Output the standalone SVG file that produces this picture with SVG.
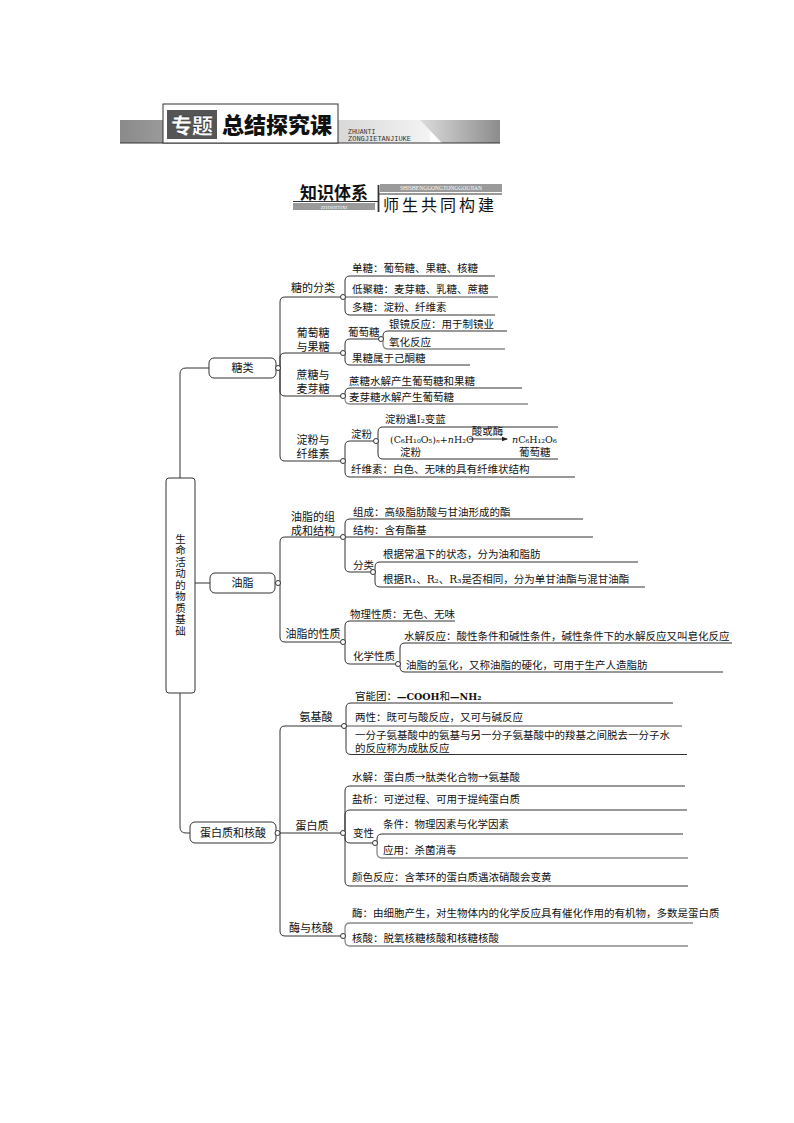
<svg xmlns="http://www.w3.org/2000/svg" width="794" height="1123" viewBox="0 0 794 1123">
<defs>
<linearGradient id="bandL" x1="120" y1="0" x2="430" y2="0" gradientUnits="userSpaceOnUse">
<stop offset="0" stop-color="#8a8a8a"/><stop offset="0.5" stop-color="#c4c4c4"/><stop offset="1" stop-color="#f4f4f4"/>
</linearGradient>
<linearGradient id="bandR" x1="420" y1="0" x2="500" y2="0" gradientUnits="userSpaceOnUse">
<stop offset="0" stop-color="#dcdcdc"/><stop offset="1" stop-color="#8c8c8c"/>
</linearGradient>
<marker id="ah" viewBox="0 0 6 6" refX="5" refY="3" markerWidth="6" markerHeight="6" orient="auto" markerUnits="userSpaceOnUse">
<path d="M0,0.8 L6,3 L0,5.2 Z" fill="#222"/>
</marker>
<style>
.t{font-family:"Noto Sans CJK SC","Noto Sans CJK JP",sans-serif;font-size:10.5px;fill:#111}
.l2{font-size:11px;text-anchor:middle}
.f{font-family:"DejaVu Serif","Liberation Serif","Noto Sans CJK SC",serif;font-size:9.5px;fill:#111}
.s{font-family:"DejaVu Serif","Liberation Serif",serif}
.cj{font-family:"Noto Sans CJK SC",sans-serif;font-size:10.5px}
.ln{fill:none;stroke:#333;stroke-width:1}
.g{stroke:#8a8a8a;stroke-width:1.3}
.c{fill:#fff;stroke:#333;stroke-width:1}
.box{fill:#fff;stroke:#333;stroke-width:1}
.vt{writing-mode:vertical-rl;letter-spacing:1px}
</style>
</defs>
<rect width="794" height="1123" fill="#fff"/>

<!-- Header -->
<g id="header">
<rect x="120" y="120" width="310" height="23" fill="url(#bandL)"/>
<polygon points="420,120 500,120 500,143 442,143" fill="url(#bandR)"/>
<line x1="120" y1="143" x2="500" y2="143" stroke="#333" stroke-width="1.2"/>
<rect x="163" y="104" width="175" height="39" fill="#fff" stroke="#333" stroke-width="1"/>
<rect x="167" y="110" width="50" height="29" fill="#555"/>
<text x="192" y="133" text-anchor="middle" font-family="Noto Sans CJK SC,sans-serif" font-size="21" font-weight="900" fill="#fff" stroke="#222" stroke-width="0.4">专题</text>
<text x="277" y="133" text-anchor="middle" font-family="Noto Sans CJK SC,sans-serif" font-size="22" font-weight="900" fill="#111">总结探究课</text>
<text font-family="Liberation Mono,monospace" font-size="6.5" fill="#333"><tspan x="348" y="133.5">ZHUANTI</tspan><tspan x="348" y="141" font-size="7">ZONGJIETANJIUKE</tspan></text>
</g>

<g id="title">
<text x="300" y="199" font-family="Noto Sans CJK SC,sans-serif" font-size="17" font-weight="700" fill="#111">知识体系</text>
<line x1="293" y1="201.5" x2="378" y2="201.5" stroke="#333" stroke-width="1"/>
<rect x="293" y="203" width="82" height="7" fill="#9a9a9a"/>
<text x="334" y="208.8" text-anchor="middle" font-family="Liberation Serif,serif" font-size="5" fill="#fff">ZHISHITIXI</text>
<line x1="378.5" y1="185" x2="378.5" y2="212" stroke="#333" stroke-width="1.8"/>
<rect x="380" y="184" width="122" height="8" fill="#9a9a9a"/>
<text x="441" y="190.3" text-anchor="middle" font-family="Liberation Serif,serif" font-size="5.5" fill="#fff">SHISHENGGONGTONGGOUJIAN</text>
<line x1="378" y1="194" x2="502" y2="194" stroke="#333" stroke-width="1"/>
<text x="383" y="211" font-family="Noto Sans CJK SC,sans-serif" font-size="16" letter-spacing="3" fill="#111">师生共同构建</text>
</g>

<!-- Connectors -->
<g id="connectors">
<path class="ln" d="M209,368 H186 Q180,368 180,374 V478"/>
<path class="ln" d="M195,583 H210"/>
<path class="ln" d="M180,693 V827 Q180,833 186,833 H190"/>
<!-- 糖类 -->
<path class="ln" d="M280,368 V302 Q280,297 285,297 H340.5"/>
<path class="ln" d="M280,368 V358 Q280,353 285,353 H340.5"/>
<path class="ln" d="M280,368 V391 Q280,396 285,396 H340.5"/>
<path class="ln" d="M280,368 V456 Q280,461 285,461 H340.5"/>
<path class="ln" d="M345,297 V281 Q345,276 350,276 H495"/>
<path class="ln g" d="M345.5,297 H498"/>
<path class="ln" d="M345,297 V310 Q345,315 350,315 H495"/>
<path class="ln" d="M345,353 V344 Q345,339 350,339 H378.5"/>
<path class="ln" d="M345,353 V360 Q345,365 350,365 H470"/>
<path class="ln" d="M383,339 V336 Q383,331 388,331 H507"/>
<path class="ln g" d="M383,339 V344 Q383,349 388,349 H505"/>
<path class="ln" d="M345,396 V393 Q345,388 350,388 H522"/>
<path class="ln g" d="M345,396 V399 Q345,404 350,404 H528"/>
<path class="ln" d="M345,461 V446 Q345,441 350,441 H373.5"/>
<path class="ln" d="M345,461 V472 Q345,477 350,477 H575"/>
<path class="ln" d="M378,441 V432 Q378,427 383,427 H558"/>
<path class="ln" d="M378,441 V454 Q378,459 383,459 H558"/>
<path class="ln" d="M469,439 H507" marker-end="url(#ah)"/>
<!-- 油脂 -->
<path class="ln" d="M280,583 V542 Q280,537 285,537 H340.5"/>
<path class="ln" d="M280,583 V637 Q280,642 285,642 H340.5"/>
<path class="ln" d="M345,537 V524 Q345,519 350,519 H583"/>
<path class="ln" d="M345.5,537 H593"/>
<path class="ln" d="M345,537 V567 Q345,572 350,572 H370.5"/>
<path class="ln" d="M375,572 V567 Q375,562 380,562 H638"/>
<path class="ln" d="M375,572 V582 Q375,587 380,587 H645"/>
<path class="ln" d="M345,642 V626 Q345,621 350,621 H455"/>
<path class="ln" d="M345,642 V659 Q345,664 350,664 H395.5"/>
<path class="ln" d="M400,664 V648 Q400,643 405,643 H732"/>
<path class="ln" d="M400,664 V667 Q400,672 405,672 H723"/>
<!-- 蛋白质和核酸 -->
<path class="ln" d="M280,833 V731 Q280,726 285,726 H341.5"/>
<path class="ln" d="M279.5,833 H340.5"/>
<path class="ln" d="M280,833 V931 Q280,936 285,936 H340.5"/>
<path class="ln" d="M346,726 V708 Q346,703 351,703 H673"/>
<path class="ln g" d="M346.5,726 H682"/>
<path class="ln" d="M346,726 V749.5 Q346,754.5 351,754.5 H687"/>
<path class="ln" d="M345,833 V791 Q345,786 350,786 H685"/>
<path class="ln" d="M345,833 V815 Q345,810 350,810 H687"/>
<path class="ln" d="M345,833 V838 Q345,843 350,843 H372.5"/>
<path class="ln" d="M345,833 V881 Q345,886 350,886 H688"/>
<path class="ln" d="M377,843 V839 Q377,834 382,834 H683"/>
<path class="ln g" d="M377,843 V853 Q377,858 382,858 H688"/>
<path class="ln g" d="M345,936 V928 Q345,923 350,923 H693"/>
<path class="ln g" d="M345,936 V941 Q345,946 350,946 H688"/>
</g>

<!-- Nodes -->
<g id="root">
<rect class="box" x="166" y="478" width="29" height="215" rx="3"/>
<text class="t vt" font-size="11" x="180.5" y="533.5">生命活动的物质基础</text>
</g>

<g id="n-tanglei">
<rect class="box" x="209" y="358" width="67" height="20" rx="5"/>
<text class="t l2" x="242.5" y="372">糖类</text>
<circle class="c" cx="278" cy="368" r="2.5"/>
</g>
<g id="n-youzhi">
<rect class="box" x="210" y="573" width="65" height="20" rx="5"/>
<text class="t l2" x="242.5" y="587">油脂</text>
<circle class="c" cx="278" cy="583" r="2.5"/>
</g>
<g id="n-danbai">
<rect class="box" x="190" y="822" width="86" height="21" rx="5"/>
<text class="t l2" x="233" y="837">蛋白质和核酸</text>
<circle class="c" cx="277.5" cy="833" r="2.5"/>
</g>

<!-- 糖类 children -->
<g id="n-tangfenlei">
<text class="t l2" x="313" y="292">糖的分类</text>
<circle class="c" cx="343" cy="297" r="2.5"/>
</g>
<g id="n-dantang"><text class="t" x="352" y="272">单糖：葡萄糖、果糖、核糖</text></g>
<g id="n-dijutang"><text class="t" x="352" y="293">低聚糖：麦芽糖、乳糖、蔗糖</text></g>
<g id="n-duotang"><text class="t" x="352" y="311">多糖：淀粉、纤维素</text></g>

<g id="n-putaotang-guotang">
<text class="t l2"><tspan x="313" y="336.5">葡萄糖</tspan><tspan x="313" y="350.5">与果糖</tspan></text>
<circle class="c" cx="343" cy="353" r="2.5"/>
</g>
<g id="n-putaotang">
<text class="t" x="348" y="336">葡萄糖</text>
<circle class="c" cx="381" cy="339" r="2.5"/>
</g>
<g id="n-yinjing"><text class="t" x="389" y="328">银镜反应：用于制镜业</text></g>
<g id="n-yanghua"><text class="t" x="389" y="346">氧化反应</text></g>
<g id="n-guotang"><text class="t" x="352" y="362">果糖属于己酮糖</text></g>

<g id="n-zhetang-maiya">
<text class="t l2"><tspan x="313" y="378.5">蔗糖与</tspan><tspan x="313" y="392.5">麦芽糖</tspan></text>
<circle class="c" cx="343" cy="396" r="2.5"/>
</g>
<g id="n-zhetang"><text class="t" x="349" y="385">蔗糖水解产生葡萄糖和果糖</text></g>
<g id="n-maiyatang"><text class="t" x="349" y="401">麦芽糖水解产生葡萄糖</text></g>

<g id="n-dianfen-xianwei">
<text class="t l2"><tspan x="313" y="443.5">淀粉与</tspan><tspan x="313" y="457.5">纤维素</tspan></text>
<circle class="c" cx="343" cy="461" r="2.5"/>
</g>
<g id="n-dianfen">
<text class="t" x="351" y="438">淀粉</text>
<circle class="c" cx="376" cy="441" r="2.5"/>
</g>
<g id="n-dianfen-i2"><text class="t" x="385" y="423">淀粉遇<tspan class="s">I₂</tspan>变蓝</text></g>
<g id="n-shuijie-formula">
<text class="f" x="390" y="443">(C₆H₁₀O₅)<tspan font-style="italic">ₙ</tspan>+<tspan font-style="italic">n</tspan>H₂O<tspan class="cj" x="400" y="456">淀粉</tspan></text>
<text class="t" x="487.5" y="434.5" font-size="9" text-anchor="middle">酸或酶</text>
<text class="f" x="512" y="443"><tspan font-style="italic">n</tspan>C₆H₁₂O₆<tspan class="cj" x="519" y="456">葡萄糖</tspan></text>
</g>
<g id="n-xianweisu"><text class="t" x="351" y="473">纤维素：白色、无味的具有纤维状结构</text></g>

<!-- 油脂 children -->
<g id="n-zucheng-jiegou">
<text class="t l2"><tspan x="313" y="521">油脂的组</tspan><tspan x="313" y="535">成和结构</tspan></text>
<circle class="c" cx="343" cy="537" r="2.5"/>
</g>
<g id="n-zucheng"><text class="t" x="353" y="516">组成：高级脂肪酸与甘油形成的酯</text></g>
<g id="n-jiegou"><text class="t" x="353" y="534">结构：含有酯基</text></g>
<g id="n-fenlei">
<text class="t" x="353" y="569">分类</text>
<circle class="c" cx="373" cy="572" r="2.5"/>
</g>
<g id="n-changwen"><text class="t" x="383" y="558">根据常温下的状态，分为油和脂肪</text></g>
<g id="n-r123"><text class="t" x="383" y="583">根据<tspan class="s">R₁</tspan>、<tspan class="s">R₂</tspan>、<tspan class="s">R₃</tspan>是否相同，分为单甘油酯与混甘油酯</text></g>

<g id="n-xingzhi">
<text class="t l2" x="313" y="638">油脂的性质</text>
<circle class="c" cx="343" cy="642" r="2.5"/>
</g>
<g id="n-wuli"><text class="t" x="350" y="618">物理性质：无色、无味</text></g>
<g id="n-huaxue">
<text class="t" x="353" y="660">化学性质</text>
<circle class="c" cx="398" cy="664" r="2.5"/>
</g>
<g id="n-shuijie-fanying"><text class="t" x="404" y="640">水解反应：酸性条件和碱性条件，碱性条件下的水解反应又叫皂化反应</text></g>
<g id="n-qinghua"><text class="t" x="406" y="669">油脂的氢化，又称油脂的硬化，可用于生产人造脂肪</text></g>

<!-- 蛋白质和核酸 children -->
<g id="n-anjisuan">
<text class="t l2" x="316" y="721">氨基酸</text>
<circle class="c" cx="344" cy="726" r="2.5"/>
</g>
<g id="n-guanneng"><text class="t" x="355" y="700">官能团：<tspan class="s" font-weight="700" font-size="9.5">—COOH</tspan>和<tspan class="s" font-weight="700" font-size="9.5">—NH₂</tspan></text></g>
<g id="n-liangxing"><text class="t" x="355" y="721">两性：既可与酸反应，又可与碱反应</text></g>
<g id="n-chengtai">
<text class="t"><tspan x="355" y="738.5">一分子氨基酸中的氨基与另一分子氨基酸中的羧基之间脱去一分子水</tspan><tspan x="355" y="752">的反应称为成肽反应</tspan></text>
</g>

<g id="n-danbaizhi">
<text class="t l2" x="312" y="830">蛋白质</text>
<circle class="c" cx="343" cy="833" r="2.5"/>
</g>
<g id="n-shuijie"><text class="t" x="352" y="781">水解：蛋白质→肽类化合物→氨基酸</text></g>
<g id="n-yanxi"><text class="t" x="352" y="803">盐析：可逆过程、可用于提纯蛋白质</text></g>
<g id="n-bianxing">
<text class="t" x="353" y="837">变性</text>
<circle class="c" cx="375" cy="843" r="2.5"/>
</g>
<g id="n-tiaojian"><text class="t" x="383" y="828">条件：物理因素与化学因素</text></g>
<g id="n-yingyong"><text class="t" x="383" y="854">应用：杀菌消毒</text></g>
<g id="n-yanse"><text class="t" x="352" y="881">颜色反应：含苯环的蛋白质遇浓硝酸会变黄</text></g>

<g id="n-mei-hesuan">
<text class="t l2" x="311" y="932">酶与核酸</text>
<circle class="c" cx="343" cy="936" r="2.5"/>
</g>
<g id="n-mei"><text class="t" x="352" y="917">酶：由细胞产生，对生物体内的化学反应具有催化作用的有机物，多数是蛋白质</text></g>
<g id="n-hesuan"><text class="t" x="352" y="942">核酸：脱氧核糖核酸和核糖核酸</text></g>
</svg>
